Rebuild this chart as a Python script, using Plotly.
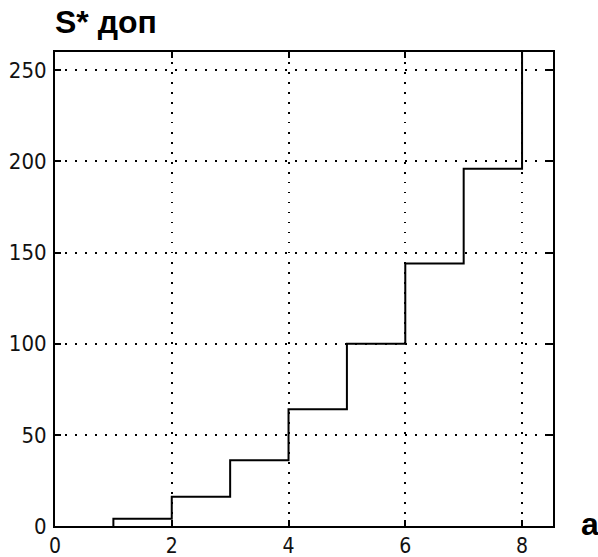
import plotly.graph_objects as go

# step data: a -> S* доп
a_vals = [1, 1, 2, 2, 3, 3, 4, 4, 5, 5, 6, 6, 7, 7, 8, 8]
s_vals = [0, 4, 4, 16, 16, 36, 36, 64, 64, 100, 100, 144, 144, 196, 196, 260]

x_ticks = [0, 2, 4, 6, 8]
y_ticks = [0, 50, 100, 150, 200, 250]

fig = go.Figure()
fig.add_trace(go.Scatter(x=a_vals, y=s_vals, mode="lines",
                         line=dict(color="black", width=2), showlegend=False,
                         cliponaxis=True))

axis_common = dict(showline=True, linecolor="black", linewidth=2, mirror="ticks",
                   ticks="inside", ticklen=6, tickwidth=1.5, tickcolor="black",
                   showgrid=True, gridcolor="black", gridwidth=1.5, griddash="1.5px,8.5px",
                   zeroline=False, automargin=False)

fig.update_xaxes(range=[0, 8.53], tickvals=x_ticks, ticklabelstandoff=0,
                 tickfont=dict(family="DejaVu Sans Condensed, Liberation Sans",
                               size=21, color="#111"), **axis_common)
fig.update_yaxes(range=[0, 260], tickvals=y_ticks, ticklabelstandoff=2,
                 tickfont=dict(family="DejaVu Sans Condensed, Liberation Sans",
                               size=22, color="#111"), **axis_common)

fig.update_layout(
    width=598, height=557,
    margin=dict(l=55, r=45, t=52, b=31),
    paper_bgcolor="white", plot_bgcolor="white",
    annotations=[
        dict(text="<b>S* доп</b>", xref="paper", yref="paper", x=-0.005, y=1.0,
             xanchor="left", yanchor="bottom", yshift=10, showarrow=False,
             font=dict(family="Liberation Sans, Arial", size=32, color="black")),
        dict(text="<b>a</b>", xref="paper", yref="paper", x=1.0, y=0,
             xanchor="left", yanchor="middle", xshift=26, yshift=2, showarrow=False,
             font=dict(family="Liberation Sans, Arial", size=32, color="black")),
    ],
)

fig.write_html("out.html")
